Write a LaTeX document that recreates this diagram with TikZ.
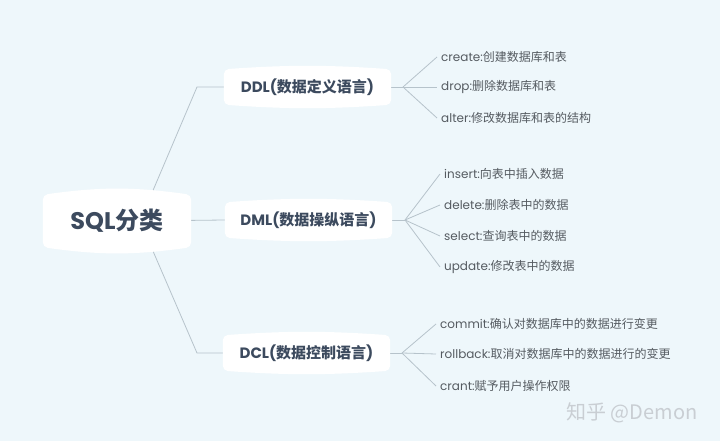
\documentclass[tikz,border=0pt]{standalone}
\usepackage{fontspec}
\newfontfamily\lat{Poppins}
\newfontfamily\cjk{Noto Sans CJK SC}
\usetikzlibrary{calc}
\definecolor{bgc}{HTML}{EEF7FB}
\definecolor{ttl}{HTML}{3C4A5E}
\definecolor{txt}{HTML}{555B61}
\definecolor{lnc}{HTML}{B6C3CB}
\definecolor{wm}{HTML}{C9CED3}
\pgfdeclarelayer{bg}
\pgfdeclarelayer{shp}
\pgfsetlayers{bg,shp,main}
\newcommand\bubble[2]{\fill[white, rounded corners=5pt] (#1.north west) to[bend left=#2] (#1.north east) -- (#1.south east) to[bend left=#2] (#1.south west) -- cycle;}
\begin{document}
\begin{tikzpicture}[x=1pt,y=-1pt,
  rootbox/.style={text=ttl, font=\bfseries\fontsize{24}{28}\selectfont, minimum width=148pt, minimum height=52pt, inner sep=0pt},
  topic/.style={text=ttl, font=\bfseries\fontsize{15}{18}\selectfont, minimum width=167pt, minimum height=35pt, inner sep=0pt},
  leaf/.style={text=txt, font=\fontsize{12}{14}\selectfont, anchor=west, inner xsep=4pt, inner ysep=2pt},
  conn/.style={draw=lnc, line width=0.8pt},
  wmark/.style={text=wm, font=\cjk\fontsize{20}{24}\selectfont}]
\useasboundingbox (0,0) rectangle (720,441);

\node[rootbox] (sql) at (117,221) {{\lat SQL}{\cjk 分类}};
\node[topic] (ddl) at (307.5,87) {{\lat DDL(}{\cjk 数据定义语言}{\lat )}};
\node[topic] (dml) at (308.5,220) {{\lat DML(}{\cjk 数据操纵语言}{\lat )}};
\node[topic] (dcl) at (306.5,353) {{\lat DCL(}{\cjk 数据控制语言}{\lat )}};

\node[leaf] (c1) at (437,57) {{\lat create:}{\cjk 创建数据库和表}};
\node[leaf] (c2) at (437,87) {{\lat drop:}{\cjk 删除数据库和表}};
\node[leaf] (c3) at (437,118) {{\lat alter:}{\cjk 修改数据库和表的结构}};

\node[leaf] (m1) at (440,174) {{\lat insert:}{\cjk 向表中插入数据}};
\node[leaf] (m2) at (440,205) {{\lat delete:}{\cjk 删除表中的数据}};
\node[leaf] (m3) at (440,236) {{\lat select:}{\cjk 查询表中的数据}};
\node[leaf] (m4) at (440,267) {{\lat update:}{\cjk 修改表中的数据}};

\node[leaf] (d1) at (436,324) {{\lat commit:}{\cjk 确认对数据库中的数据进行变更}};
\node[leaf] (d2) at (436,354) {{\lat rollback:}{\cjk 取消对数据库中的数据进行的变更}};
\node[leaf] (d3) at (436,386) {{\lat crant:}{\cjk 赋予用户操作权限}};

\node[wmark] (wmk) at (632,413) {知乎 @Demon};

\coordinate (so) at ($(sql.center)+(23,0)$);
\coordinate (kd) at (197,87);
\coordinate (kc) at (197,353);
\coordinate (fd) at (403,87);
\coordinate (fm) at (405,220);
\coordinate (fc) at (402,353);

\begin{pgfonlayer}{shp}
\bubble{sql}{8}
\bubble{ddl}{4}
\bubble{dml}{4}
\bubble{dcl}{4}
\end{pgfonlayer}

\begin{pgfonlayer}{bg}
\fill[bgc] (0,0) rectangle (720,441);
\draw[conn] (so) -- (kd) -- (ddl.west);
\draw[conn] (so) -- (dml.west);
\draw[conn] (so) -- (kc) -- (dcl.west);
\draw[conn] (ddl.east) -- (fd);
\draw[conn] (dml.east) -- (fm);
\draw[conn] (dcl.east) -- (fc);
\foreach \c in {c1,c2,c3} \draw[conn] (fd) -- (\c.west);
\foreach \c in {m1,m2,m3,m4} \draw[conn] (fm) -- (\c.west);
\foreach \c in {d1,d2,d3} \draw[conn] (fc) -- (\c.west);
\end{pgfonlayer}
\end{tikzpicture}
\end{document}
